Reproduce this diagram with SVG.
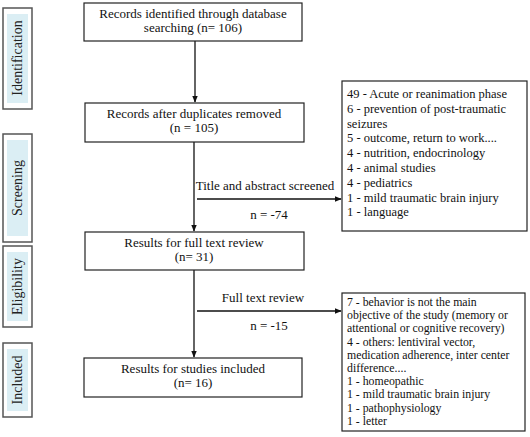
<svg xmlns="http://www.w3.org/2000/svg" width="530" height="437" viewBox="0 0 530 437">
<defs>
<style>
.t{font-family:"Liberation Serif","Times New Roman",serif;font-size:13px;fill:#111;text-anchor:middle}
.s{font-family:"Liberation Serif","Times New Roman",serif;font-size:12.5px;fill:#111}
.s2{font-family:"Liberation Serif","Times New Roman",serif;font-size:11.8px;fill:#111}
.side{font-family:"Liberation Serif","Times New Roman",serif;font-size:14px;fill:#222;text-anchor:middle}
.box{fill:#fff;stroke:#222;stroke-width:1.2}
.so{fill:#fff;stroke:#555;stroke-width:1.5}
.si{fill:#dbeef4;stroke:none}
.ln{stroke:#111;stroke-width:1.3;fill:none}
</style>
<marker id="ah" viewBox="0 0 10 10" refX="9" refY="5" markerWidth="7" markerHeight="7" orient="auto" markerUnits="userSpaceOnUse">
<path d="M0,1 L10,5 L0,9 Z" fill="#111"/>
</marker>
</defs>
<rect width="530" height="437" fill="#fff"/>

<g id="side-identification">
<rect class="so" x="3" y="8" width="29" height="101"/>
<rect class="si" x="7" y="14" width="21" height="89"/>
<text class="side" transform="translate(22,58) rotate(-90)">Identification</text>
</g>
<g id="side-screening">
<rect class="so" x="3" y="134" width="29" height="108"/>
<rect class="si" x="7" y="140" width="21" height="96"/>
<text class="side" transform="translate(22,188) rotate(-90)">Screening</text>
</g>
<g id="side-eligibility">
<rect class="so" x="3" y="246" width="29" height="81"/>
<rect class="si" x="7" y="252" width="21" height="69"/>
<text class="side" transform="translate(22,286.5) rotate(-90)">Eligibility</text>
</g>
<g id="side-included">
<rect class="so" x="3" y="343" width="29" height="74"/>
<rect class="si" x="7" y="349" width="21" height="62"/>
<text class="side" transform="translate(22,380) rotate(-90)">Included</text>
</g>

<g id="connectors">
<line class="ln" x1="195" y1="41" x2="195" y2="102" marker-end="url(#ah)"/>
<line class="ln" x1="194" y1="142" x2="194" y2="231" marker-end="url(#ah)"/>
<line class="ln" x1="197" y1="199" x2="341" y2="199" marker-end="url(#ah)"/>
<line class="ln" x1="194" y1="270" x2="194" y2="357" marker-end="url(#ah)"/>
<line class="ln" x1="197" y1="311" x2="341" y2="311" marker-end="url(#ah)"/>
<text class="t" x="265" y="190">Title and abstract screened</text>
<text class="t" x="269" y="219">n = -74</text>
<text class="t" x="263" y="302">Full text review</text>
<text class="t" x="269" y="330">n = -15</text>
</g>

<g id="records-identified">
<rect class="box" x="84" y="3" width="218" height="38"/>
<text class="t" x="193" y="18">Records identified through database</text>
<text class="t" x="193" y="32">searching (n= 106)</text>
</g>
<g id="records-after-duplicates">
<rect class="box" x="85" y="103" width="219" height="39"/>
<text class="t" x="194" y="118">Records after duplicates removed</text>
<text class="t" x="194" y="132">(n = 105)</text>
</g>
<g id="full-text-review">
<rect class="box" x="85" y="232" width="219" height="38"/>
<text class="t" x="194" y="247">Results for full text review</text>
<text class="t" x="194" y="261">(n= 31)</text>
</g>
<g id="studies-included">
<rect class="box" x="84" y="358" width="218" height="39"/>
<text class="t" x="193" y="373">Results for studies included</text>
<text class="t" x="193" y="387">(n= 16)</text>
</g>

<g id="excluded-screening">
<rect class="box" x="342" y="81" width="185" height="150"/>
<text class="s" x="347" y="98">
<tspan x="347">49 - Acute or reanimation phase</tspan>
<tspan x="347" dy="14.8">6 - prevention of post-traumatic</tspan>
<tspan x="347" dy="14.8">seizures</tspan>
<tspan x="347" dy="14.8">5 - outcome, return to work....</tspan>
<tspan x="347" dy="14.8">4 - nutrition, endocrinology</tspan>
<tspan x="347" dy="14.8">4 - animal studies</tspan>
<tspan x="347" dy="14.8">4 - pediatrics</tspan>
<tspan x="347" dy="14.8">1 - mild traumatic brain injury</tspan>
<tspan x="347" dy="14.8">1 - language</tspan>
</text>
</g>
<g id="excluded-eligibility">
<rect class="box" x="342" y="293" width="183" height="138"/>
<text class="s2" x="347" y="306">
<tspan x="347">7 - behavior is not the main</tspan>
<tspan x="347" dy="13.2">objective of the study (memory or</tspan>
<tspan x="347" dy="13.2">attentional or cognitive recovery)</tspan>
<tspan x="347" dy="13.2">4 - others: lentiviral vector,</tspan>
<tspan x="347" dy="13.2">medication adherence, inter center</tspan>
<tspan x="347" dy="13.2">difference....</tspan>
<tspan x="347" dy="13.2">1 - homeopathic</tspan>
<tspan x="347" dy="13.2">1 - mild traumatic brain injury</tspan>
<tspan x="347" dy="13.2">1 - pathophysiology</tspan>
<tspan x="347" dy="13.2">1 - letter</tspan>
</text>
</g>
</svg>
